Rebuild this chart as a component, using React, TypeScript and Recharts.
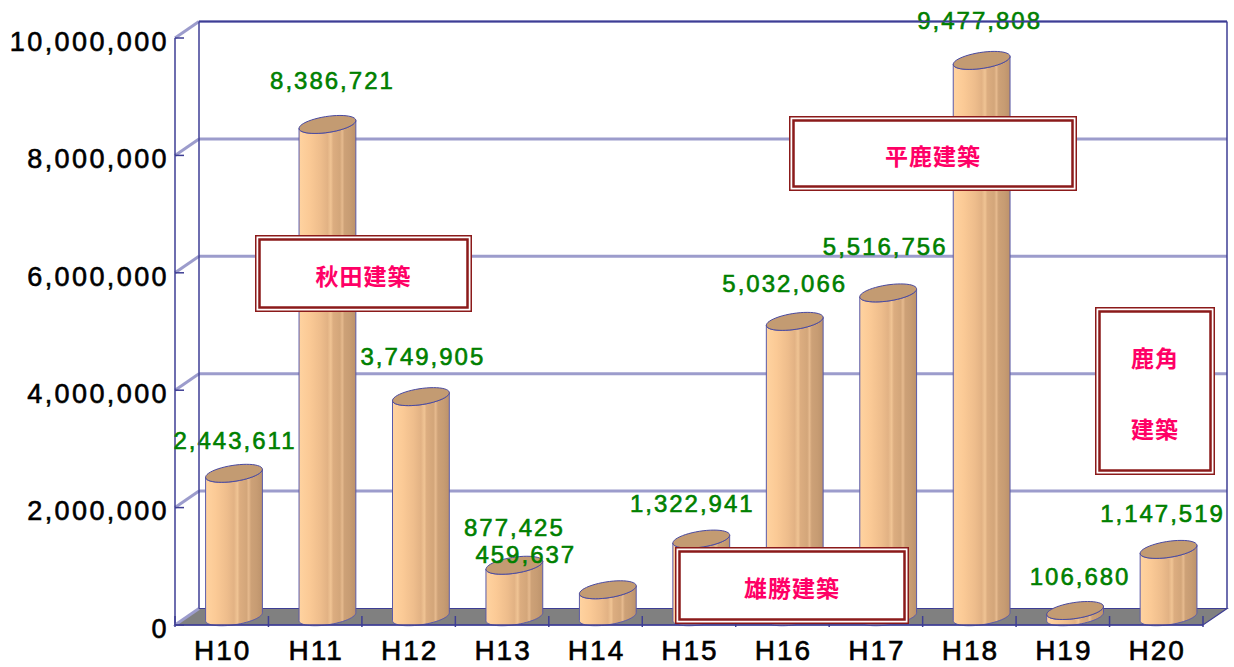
import React from "react"
import { BarChart, Bar, XAxis, YAxis, CartesianGrid, LabelList } from "recharts"

const years = ["H10", "H11", "H12", "H13", "H14", "H15", "H16", "H17", "H18", "H19", "H20"]
const amounts = [2443611, 8386721, 3749905, 877425, 459637, 1322941, 5032066, 5516756, 9477808, 106680, 1147519]
const yTicks = [0, 2000000, 4000000, 6000000, 8000000, 10000000]

// text boxes laid over the chart
const notes = [
  { lines: ["秋田建築"], x: 255, y: 235, w: 217, h: 77 },
  { lines: ["平鹿建築"], x: 789, y: 116, w: 288, h: 75 },
  { lines: ["雄勝建築"], x: 675, y: 547, w: 234, h: 77 },
  { lines: ["鹿角", "建築"], x: 1095, y: 307, w: 120, h: 168 },
]

// hand placement of the value labels (dx, dy), layout only
const labelNudge: [number, number][] = [
  [0, 5], [4, -6], [1, -2], [-1, 0], [-83, 3], [-10, 2], [-11, 0], [-4, -9], [-3, -2], [4, 4], [-7, 2],
]

const data = years.map((year, i) => ({ year, amount: amounts[i] }))

const W = 1234
const H = 667
const LEFT = 175
const RIGHT = 1203
const TOP = 38
const BOTTOM = 625
const DX = 24
const DY = 16.5
const BAND = (RIGHT - LEFT) / years.length

const FONT = '"Liberation Sans", Arial, sans-serif'
const DARK = "#3E3E94"
const GRID = "#9C9CCC"

// cylinder cross section (oblique ellipse)
const R = 25.5
const EX = 12.5
const EY = -9

function pt(cx: number, cy: number, t: number) {
  return [cx + R * Math.cos(t) + EX * Math.sin(t), cy + EY * Math.sin(t)]
}

function arc(cx: number, cy: number, t0: number, t1: number, n = 28) {
  const out: number[][] = []
  for (let i = 0; i <= n; i++) out.push(pt(cx, cy, t0 + ((t1 - t0) * i) / n))
  return out
}

function Cylinder(props: any) {
  const { x, y, width, height } = props
  if (x == null || y == null) return null
  const cx = x + width / 2 + DX / 2
  const top = y - DY / 2
  const bot = y + height - DY / 2
  const tr = Math.atan2(EX, R)
  const tl = tr + Math.PI
  const bottomArc = arc(cx, bot, tl, tr + 2 * Math.PI)
  const topArc = arc(cx, top, tr + 2 * Math.PI, tl)
  const [lx, ly] = pt(cx, top, tl)
  const body =
    `M${lx},${ly} ` +
    bottomArc.map((p) => `L${p[0]},${p[1]}`).join(" ") +
    " " +
    topArc.map((p) => `L${p[0]},${p[1]}`).join(" ") +
    " Z"
  const cap = arc(cx, top, 0, 2 * Math.PI, 48)
  const capPath = "M" + cap.map((p) => `${p[0]},${p[1]}`).join(" L") + " Z"
  return (
    <g>
      <path d={body} fill="url(#cylBody)" stroke="#5A5AA8" strokeWidth={1} />
      <path d={capPath} fill="#C39B72" stroke="#4A4AA0" strokeWidth={1} />
    </g>
  )
}

function ValueLabel(props: any) {
  const { x, y, width, value, index } = props
  if (x == null || y == null) return null
  const [nx, ny] = labelNudge[index] || [0, 0]
  const cx = x + width / 2 + DX / 2 + nx
  const cy = y - DY / 2 - 38 + ny
  return (
    <text
      x={cx + 1}
      y={cy + 0.36 * 24}
      textAnchor="middle"
      fontFamily={FONT}
      fontSize={24}
      letterSpacing={2}
      fill="#008000"
      stroke="#008000"
      strokeWidth={0.6}
    >
      {Number(value).toLocaleString("en-US")}
    </text>
  )
}

function YTick(props: any) {
  const { y, payload } = props
  return (
    <g>
      <line x1={LEFT} y1={y} x2={LEFT + 9} y2={y} stroke={DARK} strokeWidth={1.5} />
      <text
        x={169}
        y={y + 3 + 0.36 * 27}
        textAnchor="end"
        fontFamily={FONT}
        fontSize={27}
        letterSpacing={2.4}
        fill="#000"
        stroke="#000"
        strokeWidth={0.6}
      >
        {Number(payload.value).toLocaleString("en-US")}
      </text>
    </g>
  )
}

function XTick(props: any) {
  const { x, payload } = props
  return (
    <text
      x={x + 1}
      y={660}
      textAnchor="middle"
      fontFamily={FONT}
      fontSize={28}
      letterSpacing={2}
      fill="#000"
      stroke="#000"
      strokeWidth={0.6}
    >
      {payload.value}
    </text>
  )
}

function gridLine(props: any) {
  const { x1, y1, x2, key } = props
  const isFloor = Math.abs(y1 - BOTTOM) < 1
  return (
    <g key={key}>
      <line x1={x1} y1={y1} x2={x1 + DX} y2={y1 - DY} stroke={GRID} strokeWidth={3} />
      {!isFloor && (
        <line x1={x1 + DX} y1={y1 - DY} x2={x2 + DX} y2={y1 - DY} stroke={GRID} strokeWidth={3} />
      )}
    </g>
  )
}

function Underlay() {
  const ticks = []
  for (let i = 0; i <= years.length; i++) {
    const tx = LEFT + BAND * i
    ticks.push(<line key={i} x1={tx} y1={616} x2={tx} y2={627} stroke={DARK} strokeWidth={1.5} />)
  }
  return (
    <svg width={W} height={H} style={{ position: "absolute", left: 0, top: 0 }}>
      <polygon
        points={`${LEFT},${BOTTOM} ${LEFT + DX},${BOTTOM - DY} ${RIGHT + DX},${BOTTOM - DY} ${RIGHT},${BOTTOM}`}
        fill="#808080"
        stroke={DARK}
        strokeWidth={1.2}
      />
      {ticks}
    </svg>
  )
}

function Overlay() {
  return (
    <svg width={W} height={H} style={{ position: "absolute", left: 0, top: 0, pointerEvents: "none" }}>
      <line x1={LEFT + DX} y1={TOP - DY} x2={LEFT + DX} y2={BOTTOM - DY} stroke={DARK} strokeWidth={1.5} />
      <line x1={LEFT + DX} y1={TOP - DY} x2={RIGHT + DX} y2={TOP - DY} stroke={DARK} strokeWidth={1.5} />
      <line x1={RIGHT + DX} y1={TOP - DY} x2={RIGHT + DX} y2={BOTTOM - DY} stroke={DARK} strokeWidth={1.5} />
      {notes.map((n, i) => {
        const mid = n.y + n.h / 2 + 1
        const step = 71
        return (
          <g key={i}>
            <rect x={n.x + 0.75} y={n.y + 0.75} width={n.w - 1.5} height={n.h - 1.5} fill="#fff" stroke="#8B1A1A" strokeWidth={1.5} />
            <rect x={n.x + 4.5} y={n.y + 4.5} width={n.w - 9} height={n.h - 9} fill="none" stroke="#8B1A1A" strokeWidth={2.5} />
            {n.lines.map((line, j) => {
              const cy = mid + (j - (n.lines.length - 1) / 2) * step
              return (
                <text
                  key={j}
                  x={n.x + n.w / 2}
                  y={cy}
                  textAnchor="middle"
                  dominantBaseline="central"
                  fontFamily='"Noto Sans CJK JP", sans-serif'
                  fontWeight="bold"
                  fontSize={23}
                  letterSpacing={1}
                  fill="#FF0066"
                >
                  {line}
                </text>
              )
            })}
          </g>
        )
      })}
    </svg>
  )
}

export default function App() {
  return (
    <div style={{ position: "absolute", left: 0, top: 0, width: W, height: H, background: "#fff" }}>
      <Underlay />
      <div style={{ position: "absolute", left: 0, top: 0 }}>
        <BarChart
          width={W}
          height={H}
          data={data}
          margin={{ top: TOP, right: W - RIGHT, bottom: 0, left: 0 }}
          barSize={40}
        >
          <defs>
            <linearGradient id="cylBody" x1="0" y1="0" x2="1" y2="0">
              <stop offset="0" stopColor="#FFD3A0" />
              <stop offset="0.18" stopColor="#FBCA96" />
              <stop offset="0.38" stopColor="#EEBD8C" />
              <stop offset="0.5" stopColor="#E2B284" />
              <stop offset="0.56" stopColor="#F0C494" />
              <stop offset="0.6" stopColor="#DCAD80" />
              <stop offset="0.72" stopColor="#D3A67A" />
              <stop offset="0.76" stopColor="#E6BA8E" />
              <stop offset="0.8" stopColor="#CDA177" />
              <stop offset="0.9" stopColor="#C79C73" />
              <stop offset="1" stopColor="#BC926B" />
            </linearGradient>
          </defs>
          <CartesianGrid vertical={false} horizontal={gridLine} />
          <XAxis
            dataKey="year"
            height={H - BOTTOM}
            axisLine={{ stroke: DARK, strokeWidth: 1.5 }}
            tickLine={false}
            tick={<XTick />}
            interval={0}
          />
          <YAxis
            width={LEFT}
            domain={[0, 10000000]}
            ticks={yTicks}
            axisLine={{ stroke: DARK, strokeWidth: 1.5 }}
            tickLine={false}
            tick={<YTick />}
            interval={0}
          />
          <Bar dataKey="amount" shape={<Cylinder />} isAnimationActive={false}>
            <LabelList dataKey="amount" content={<ValueLabel />} />
          </Bar>
        </BarChart>
      </div>
      <Overlay />
    </div>
  )
}
